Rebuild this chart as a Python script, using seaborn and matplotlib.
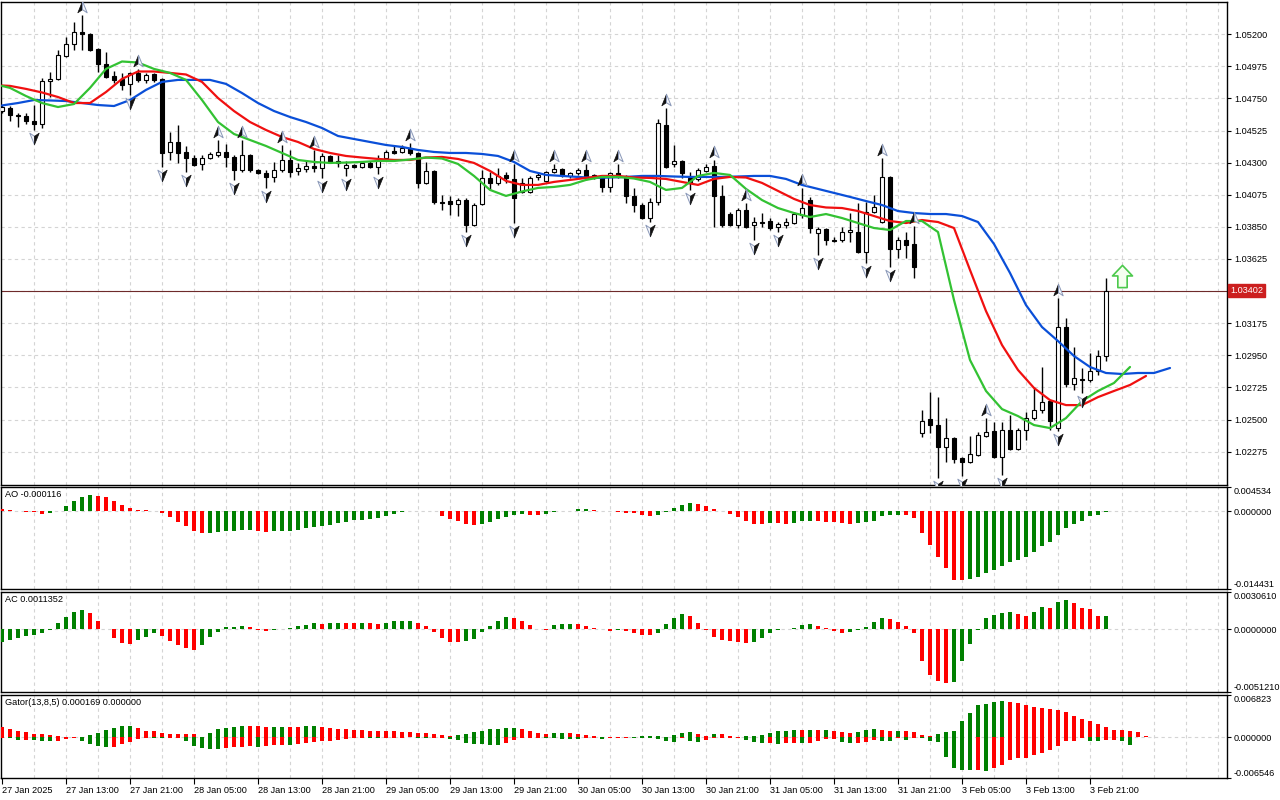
import numpy as np
import matplotlib
matplotlib.use("Agg")
import matplotlib.pyplot as plt
from matplotlib.path import Path
from matplotlib import transforms
import seaborn as sns

sns.set_style("white")
plt.rcParams['font.family'] = ['Liberation Sans', 'DejaVu Sans']

# ---------------- data (H1 bars) ----------------
opens = [1.04662, 1.04683, 1.04634, 1.04627, 1.04592, 1.04571, 1.04873, 1.04887, 1.05048, 1.05132,
         1.05216, 1.05202, 1.05097, 1.04992, 1.04908, 1.04887, 1.04852, 1.04929, 1.04880, 1.04922,
         1.04887, 1.04375, 1.04445, 1.04375, 1.04333, 1.04291, 1.04333, 1.04354, 1.04375, 1.04340,
         1.04249, 1.04354, 1.04249, 1.04228, 1.04200, 1.04249, 1.04319, 1.04242, 1.04256, 1.04277,
         1.04263, 1.04347, 1.04312, 1.04263, 1.04284, 1.04270, 1.04298, 1.04270, 1.04333, 1.04382,
         1.04375, 1.04403, 1.04368, 1.04158, 1.04242, 1.04024, 1.04031, 1.04010, 1.04038, 1.03863,
         1.04010, 1.04193, 1.04158, 1.04214, 1.04186, 1.04095, 1.04095, 1.04200, 1.04172, 1.04235,
         1.04256, 1.04207, 1.04228, 1.04249, 1.04193, 1.04200, 1.04130, 1.04228, 1.04200, 1.04067,
         1.04003, 1.03912, 1.04024, 1.04564, 1.04291, 1.04312, 1.04193, 1.04186, 1.04242, 1.04277,
         1.04067, 1.03940, 1.03863, 1.03968, 1.03863, 1.03884, 1.03891, 1.03849, 1.03863, 1.03877,
         1.03933, 1.04038, 1.03807, 1.03835, 1.03758, 1.03758, 1.03814, 1.03814, 1.03674, 1.03954,
         1.03884, 1.04200, 1.03695, 1.03758, 1.03730, 1.02405, 1.02503, 1.02461, 1.02307, 1.02370,
         1.02230, 1.02202, 1.02251, 1.02384, 1.02419, 1.02237, 1.02426, 1.02293, 1.02426, 1.02510,
         1.02566, 1.02629, 1.02440, 1.03148, 1.02749, 1.02784, 1.02777, 1.02840, 1.02945]
highs = [1.04704, 1.04697, 1.04648, 1.04648, 1.04704, 1.04894, 1.04936, 1.05090, 1.05181, 1.05286,
         1.05335, 1.05209, 1.05104, 1.05076, 1.04943, 1.04929, 1.04936, 1.04957, 1.04929, 1.04929,
         1.04894, 1.04515, 1.04564, 1.04417, 1.04354, 1.04354, 1.04375, 1.04459, 1.04431, 1.04354,
         1.04459, 1.04361, 1.04256, 1.04249, 1.04305, 1.04424, 1.04389, 1.04298, 1.04319, 1.04389,
         1.04368, 1.04354, 1.04354, 1.04312, 1.04291, 1.04305, 1.04312, 1.04354, 1.04389, 1.04424,
         1.04424, 1.04438, 1.04375, 1.04305, 1.04249, 1.04074, 1.04067, 1.04053, 1.04053, 1.04017,
         1.04249, 1.04235, 1.04263, 1.04235, 1.04291, 1.04193, 1.04207, 1.04235, 1.04242, 1.04291,
         1.04263, 1.04235, 1.04263, 1.04291, 1.04221, 1.04214, 1.04235, 1.04291, 1.04214, 1.04123,
         1.04017, 1.04053, 1.04606, 1.04683, 1.04424, 1.04319, 1.04235, 1.04263, 1.04291, 1.04319,
         1.04144, 1.03954, 1.03982, 1.04017, 1.03919, 1.03947, 1.03912, 1.03884, 1.03912, 1.03954,
         1.04123, 1.04060, 1.03849, 1.03842, 1.03779, 1.03849, 1.03947, 1.04017, 1.04024, 1.04074,
         1.04333, 1.04207, 1.03779, 1.03814, 1.03856, 1.02566, 1.02693, 1.02658, 1.02510, 1.02377,
         1.02237, 1.02384, 1.02412, 1.02510, 1.02482, 1.02482, 1.02531, 1.02440, 1.02552, 1.02728,
         1.02868, 1.02636, 1.03351, 1.03211, 1.03008, 1.02861, 1.02966, 1.02987, 1.03492]
lows = [1.04648, 1.04592, 1.04550, 1.04571, 1.04529, 1.04543, 1.04760, 1.04880, 1.05041, 1.05090,
        1.05090, 1.05083, 1.04936, 1.04894, 1.04859, 1.04810, 1.04774, 1.04866, 1.04859, 1.04866,
        1.04270, 1.04319, 1.04298, 1.04235, 1.04277, 1.04249, 1.04326, 1.04340, 1.04270, 1.04179,
        1.04235, 1.04235, 1.04221, 1.04123, 1.04165, 1.04235, 1.04200, 1.04214, 1.04235, 1.04235,
        1.04193, 1.04298, 1.04270, 1.04207, 1.04263, 1.04263, 1.04263, 1.04221, 1.04326, 1.04361,
        1.04368, 1.04354, 1.04123, 1.04151, 1.04010, 1.03968, 1.03933, 1.03926, 1.03814, 1.03856,
        1.04003, 1.04109, 1.04144, 1.04158, 1.03877, 1.04088, 1.04088, 1.04179, 1.04165, 1.04228,
        1.04200, 1.04193, 1.04214, 1.04179, 1.04186, 1.04095, 1.04095, 1.04193, 1.04017, 1.03954,
        1.03905, 1.03884, 1.04003, 1.04263, 1.04270, 1.04193, 1.04109, 1.04172, 1.04235, 1.03849,
        1.03849, 1.03856, 1.03842, 1.03842, 1.03758, 1.03849, 1.03828, 1.03814, 1.03842, 1.03870,
        1.03912, 1.03807, 1.03653, 1.03723, 1.03744, 1.03744, 1.03744, 1.03667, 1.03597, 1.03947,
        1.03877, 1.03569, 1.03632, 1.03632, 1.03492, 1.02377, 1.02405, 1.02090, 1.02202, 1.02195,
        1.02104, 1.02195, 1.02244, 1.02377, 1.02230, 1.02111, 1.02286, 1.02286, 1.02356, 1.02496,
        1.02545, 1.02426, 1.02419, 1.02728, 1.02707, 1.02686, 1.02763, 1.02812, 1.02910]
closes = [1.04690, 1.04634, 1.04627, 1.04592, 1.04571, 1.04873, 1.04887, 1.05055, 1.05132, 1.05216,
          1.05202, 1.05090, 1.04992, 1.04901, 1.04880, 1.04845, 1.04929, 1.04880, 1.04915, 1.04880,
          1.04368, 1.04445, 1.04368, 1.04333, 1.04284, 1.04333, 1.04361, 1.04375, 1.04340, 1.04249,
          1.04354, 1.04249, 1.04228, 1.04200, 1.04249, 1.04319, 1.04235, 1.04263, 1.04277, 1.04263,
          1.04347, 1.04305, 1.04298, 1.04284, 1.04270, 1.04298, 1.04270, 1.04319, 1.04375, 1.04368,
          1.04403, 1.04368, 1.04158, 1.04242, 1.04024, 1.04017, 1.04010, 1.04038, 1.03863, 1.04003,
          1.04193, 1.04158, 1.04207, 1.04193, 1.04053, 1.04158, 1.04193, 1.04214, 1.04235, 1.04256,
          1.04214, 1.04228, 1.04249, 1.04193, 1.04214, 1.04130, 1.04228, 1.04200, 1.04067, 1.04003,
          1.03912, 1.04024, 1.04578, 1.04270, 1.04312, 1.04228, 1.04158, 1.04249, 1.04270, 1.04067,
          1.03863, 1.03863, 1.03968, 1.03849, 1.03884, 1.03877, 1.03842, 1.03870, 1.03884, 1.03940,
          1.03982, 1.03842, 1.03835, 1.03758, 1.03751, 1.03814, 1.03828, 1.03674, 1.03954, 1.03989,
          1.04200, 1.03695, 1.03758, 1.03723, 1.03569, 1.02489, 1.02461, 1.02307, 1.02370, 1.02223,
          1.02202, 1.02258, 1.02391, 1.02412, 1.02237, 1.02426, 1.02293, 1.02426, 1.02510, 1.02566,
          1.02622, 1.02489, 1.03148, 1.02749, 1.02791, 1.02777, 1.02840, 1.02945, 1.03402]

# Alligator lines (jaw read on even bars 0..146, teeth/lips on bar 0 and odd bars)
jaw = [1.04701, 1.04718, 1.04739, 1.04736, 1.04732, 1.04718, 1.04704, 1.04697, 1.04739, 1.04810,
       1.04866, 1.04880, 1.04880, 1.04880, 1.04852, 1.04788, 1.04718, 1.04662, 1.04620, 1.04585,
       1.04543, 1.04487, 1.04466, 1.04445, 1.04424, 1.04410, 1.04389, 1.04375, 1.04368, 1.04368,
       1.04361, 1.04347, 1.04305, 1.04242, 1.04214, 1.04207, 1.04200, 1.04193, 1.04196, 1.04200,
       1.04207, 1.04207, 1.04203, 1.04200, 1.04200, 1.04200, 1.04203, 1.04207, 1.04207, 1.04186,
       1.04144, 1.04116, 1.04088, 1.04060, 1.04031, 1.04003, 1.03961, 1.03947, 1.03940, 1.03940,
       1.03926, 1.03884, 1.03730, 1.03527, 1.03302, 1.03148, 1.03050, 1.02945, 1.02868, 1.02826,
       1.02819, 1.02826, 1.02826, 1.02861]
teeth = [1.04841,
         1.04838, 1.04817, 1.04792, 1.04760, 1.04718, 1.04718, 1.04795, 1.04887, 1.04939, 1.04939,
         1.04929, 1.04918, 1.04866, 1.04753, 1.04662, 1.04585, 1.04529, 1.04480, 1.04445, 1.04396,
         1.04368, 1.04347, 1.04336, 1.04326, 1.04319, 1.04319, 1.04336, 1.04340, 1.04326, 1.04298,
         1.04242, 1.04172, 1.04144, 1.04144, 1.04165, 1.04179, 1.04193, 1.04207, 1.04207, 1.04196,
         1.04193, 1.04186, 1.04165, 1.04144, 1.04186, 1.04200, 1.04196, 1.04158, 1.04102, 1.04046,
         1.04003, 1.03986, 1.03982, 1.03961, 1.03926, 1.03891, 1.03877, 1.03898, 1.03884, 1.03842,
         1.03548, 1.03260, 1.03022, 1.02847, 1.02721, 1.02636, 1.02601, 1.02601, 1.02657, 1.02700,
         1.02742, 1.02805]
lips = [1.04838,
        1.04824, 1.04767, 1.04718, 1.04690, 1.04711, 1.04824, 1.04957, 1.05009, 1.05002, 1.04957,
        1.04929, 1.04880, 1.04739, 1.04585, 1.04501, 1.04459, 1.04417, 1.04368, 1.04319, 1.04305,
        1.04298, 1.04301, 1.04305, 1.04312, 1.04312, 1.04322, 1.04336, 1.04329, 1.04291, 1.04207,
        1.04109, 1.04067, 1.04098, 1.04123, 1.04130, 1.04144, 1.04179, 1.04200, 1.04200, 1.04189,
        1.04165, 1.04109, 1.04123, 1.04207, 1.04228, 1.04214, 1.04116, 1.04038, 1.03982, 1.03947,
        1.03919, 1.03940, 1.03912, 1.03877, 1.03842, 1.03828, 1.03891, 1.03891, 1.03814, 1.03337,
        1.02917, 1.02700, 1.02573, 1.02524, 1.02461, 1.02440, 1.02510, 1.02629, 1.02700, 1.02756,
        1.02868]
jaw_bars = list(range(0, 147, 2))
teeth_bars = [0] + list(range(1, 144, 2))
lips_bars = [0] + list(range(1, 142, 2))

fractal_up = [10, 17, 27, 30, 35, 39, 51, 64, 69, 73, 77, 83, 89, 93, 100, 110, 114, 123, 132]
fractal_down = [4, 16, 20, 23, 29, 33, 40, 43, 47, 58, 64, 81, 86, 94, 97, 102, 108, 111, 117,
                120, 125, 132, 135]
signal_bar = 140
signal_price = 1.03506

ao = [0.0004, 0.0003, 0.0001, -0.0001, -0.0002, -0.0004, -0.0003, 0.0001, 0.00093, 0.00186,
      0.0026, 0.0030, 0.0029, 0.0026, 0.00186, 0.0011, 0.00056, 0.0003, 0.0002, 0.0001,
      -0.0003, -0.00105, -0.00205, -0.0028, -0.0036, -0.0040, -0.00398, -0.00385, -0.0037, -0.0036,
      -0.00354, -0.0034, -0.0037, -0.00385, -0.0037, -0.00366, -0.0036, -0.0034, -0.00316, -0.0029,
      -0.0028, -0.00254, -0.00217, -0.0020, -0.00167, -0.00155, -0.0014, -0.0013, -0.00093, -0.0004,
      -0.0001, 0.0001, 0.00015, 0.0001, 0.0, -0.00093, -0.00143, -0.00186, -0.00236, -0.0026,
      -0.00236, -0.00205, -0.00143, -0.00105, -0.00068, -0.0005, -0.0006, -0.00065, -0.0005, -0.0001,
      0.0, 0.0001, 0.0004, 0.00045, 0.0002, 0.00015, 0.0, -0.0001, -0.0003, -0.00035,
      -0.0007, -0.0009, -0.0007, -0.0001, 0.00056, 0.0011, 0.00155, 0.0014, 0.00093, 0.0004,
      0.0001, -0.0005, -0.0011, -0.00186, -0.00236, -0.0024, -0.00217, -0.0022, -0.00236, -0.00217,
      -0.00186, -0.0017, -0.00186, -0.0019, -0.00205, -0.00217, -0.00236, -0.00217, -0.0020, -0.0017,
      -0.00093, -0.0007, -0.00065, -0.0007, -0.0012, -0.00403, -0.00632, -0.00856, -0.01054, -0.01283,
      -0.01284, -0.01259, -0.01221, -0.01147, -0.01097, -0.01023, -0.00949, -0.00911, -0.00856, -0.00763,
      -0.00651, -0.00577, -0.00446, -0.00316, -0.00236, -0.00186, -0.00093, -0.00068, -0.000116]
ac = [-0.00101, -0.00087, -0.00068, -0.00055, -0.00046, -0.00027, -0.00005, 0.00055, 0.00101, 0.00142,
      0.00158, 0.00134, 0.00068, 0.0, -0.00068, -0.00109, -0.00117, -0.00085, -0.0006, -0.00027,
      -0.00052, -0.00096, -0.00126, -0.0015, -0.00169, -0.00126, -0.0006, -0.00019, 0.00019, 0.0002,
      0.00027, 0.00019, -0.00005, -0.0001, -0.00003, 0.00002, 0.00008, 0.00027, 0.00033, 0.00055,
      0.00046, 0.0005, 0.00055, 0.00052, 0.0005, 0.00055, 0.00052, 0.00048, 0.00055, 0.00068,
      0.00069, 0.0007, 0.00052, 0.00027, -0.00019, -0.00068, -0.00101, -0.00102, -0.00093, -0.00076,
      -0.00019, 0.00027, 0.00068, 0.00101, 0.00093, 0.00068, 0.00035, 0.00005, -0.00005, 0.00035,
      0.00044, 0.00046, 0.00044, 0.00027, 0.00008, 0.00005, -0.0001, -0.00003, -0.0001, -0.00027,
      -0.00044, -0.00045, -0.00027, 0.00044, 0.00093, 0.00126, 0.00109, 0.00052, -0.00003, -0.0006,
      -0.00085, -0.00093, -0.00101, -0.00109, -0.00101, -0.00068, -0.00027, -0.00003, 0.00002, 0.00014,
      0.00033, 0.00044, 0.00027, 0.00008, -0.0001, -0.00027, -0.00019, -0.00003, 0.00019, 0.0006,
      0.00093, 0.00085, 0.0006, 0.00027, -0.00027, -0.00257, -0.00371, -0.0042, -0.00437, -0.00429,
      -0.00257, -0.00117, -0.00003, 0.00093, 0.00117, 0.00134, 0.00142, 0.00126, 0.00109, 0.00142,
      0.00183, 0.00175, 0.00224, 0.0024, 0.00216, 0.00175, 0.00167, 0.00112, 0.0011352]
gator_up = [0.00161, 0.0014, 0.00102, 0.00086, 0.00054, 0.00052, 0.00038, 0.00021, 0.0001, 0.00003,
            0.0001, 0.00038, 0.0007, 0.00118, 0.00156, 0.00183, 0.00184, 0.0015, 0.00107, 0.00102,
            0.00075, 0.00054, 0.00053, 0.00052, 0.0005, 0.0001, 0.00064, 0.00129, 0.00156, 0.00172,
            0.00183, 0.00182, 0.00177, 0.00172, 0.00173, 0.00174, 0.00172, 0.0017, 0.00183, 0.00184,
            0.00172, 0.00156, 0.0014, 0.00129, 0.00118, 0.00117, 0.00107, 0.00102, 0.00101, 0.001,
            0.00086, 0.00085, 0.0007, 0.00069, 0.00054, 0.00032, 0.0002, 0.00032, 0.00054, 0.00086,
            0.00102, 0.00134, 0.00135, 0.0015, 0.00151, 0.00134, 0.00102, 0.0007, 0.00054, 0.0007,
            0.00071, 0.0007, 0.00054, 0.00032, 0.0002, 0.00008, 0.00005, 0.00003, 0.00002, 0.00004,
            0.0002, 0.00021, 0.00022, 0.00005, 0.00038, 0.0007, 0.00086, 0.00054, 0.0002, 0.00054,
            0.00053, 0.0002, 0.0001, 0.0002, 0.00025, 0.00038, 0.0007, 0.00102, 0.00103, 0.00118,
            0.00117, 0.00118, 0.00117, 0.00119, 0.00102, 0.00086, 0.0007, 0.00086, 0.00118, 0.00134,
            0.00118, 0.00102, 0.00103, 0.00102, 0.00086, 0.00038, 0.0002, 0.00054, 0.00086, 0.00102,
            0.00263, 0.00392, 0.0052, 0.00536, 0.00569, 0.00585, 0.00569, 0.00553, 0.00521, 0.00488,
            0.00472, 0.00456, 0.0044, 0.00408, 0.00343, 0.00295, 0.00263, 0.00215, 0.00166, 0.00118,
            0.00117, 0.00102, 0.00086, 0.000169]
gator_down = [0.0001, 0.00015, 0.00038, 0.00037, 0.00038, 0.00054, 0.00055, 0.00054, 0.0002, 0.00005,
              0.00054, 0.00107, 0.0014, 0.0015, 0.00148, 0.00107, 0.0007, 0.00027, 0.0001, 0.00016,
              0.00017, 0.0001, 0.00005, 0.00054, 0.00134, 0.00172, 0.00188, 0.00189, 0.00177, 0.00161,
              0.0015, 0.00145, 0.0015, 0.00134, 0.00118, 0.00117, 0.00118, 0.00107, 0.00091, 0.0008,
              0.00054, 0.00053, 0.00038, 0.00027, 0.00016, 0.0001, 0.00016, 0.00017, 0.0001, 0.00005,
              0.00003, 0.00002, 0.0001, 0.00012, 0.0001, 0.00005, 0.00027, 0.00043, 0.00091, 0.00107,
              0.00108, 0.00123, 0.00124, 0.00091, 0.00038, 0.0001, 0.00005, 0.00003, 0.00016, 0.00018,
              0.0002, 0.00022, 0.00027, 0.00016, 0.00015, 0.00027, 0.0001, 0.00005, 0.00003, 0.00005,
              0.0001, 0.00016, 0.00027, 0.00054, 0.0007, 0.0001, 0.00054, 0.0007, 0.00038, 0.00016,
              0.00015, 0.0001, 0.00005, 0.00038, 0.0007, 0.00091, 0.0009, 0.00107, 0.0009, 0.00089,
              0.00092, 0.0009, 0.0006, 0.00027, 0.00026, 0.0007, 0.00091, 0.0009, 0.0007, 0.00038,
              0.00054, 0.00055, 0.00016, 0.00038, 0.00016, 0.00017, 0.00054, 0.0007, 0.00311, 0.00489,
              0.00525, 0.00527, 0.00526, 0.00542, 0.00494, 0.0044, 0.00365, 0.00333, 0.0033, 0.00285,
              0.00252, 0.00204, 0.00134, 0.00054, 0.00053, 0.0001, 0.00054, 0.00055, 0.00038, 0.00037,
              0.00054, 0.00124]

price_ticks = [1.02275, 1.02500, 1.02725, 1.02950, 1.03175, 1.03400, 1.03625, 1.03850,
               1.04075, 1.04300, 1.04525, 1.04750, 1.04975, 1.05200]
price_range = (1.02041, 1.05426)
ao_range = (-0.014431, 0.004534)
ac_range = (-0.0051210, 0.0030610)
gator_range = (-0.006546, 0.006823)

time_labels = ["27 Jan 2025", "27 Jan 13:00", "27 Jan 21:00", "28 Jan 05:00", "28 Jan 13:00",
               "28 Jan 21:00", "29 Jan 05:00", "29 Jan 13:00", "29 Jan 21:00", "30 Jan 05:00",
               "30 Jan 13:00", "30 Jan 21:00", "31 Jan 05:00", "31 Jan 13:00", "31 Jan 21:00",
               "3 Feb 05:00", "3 Feb 13:00", "3 Feb 21:00"]
label_bars = [0, 8, 16, 24, 32, 40, 48, 56, 64, 72, 80, 88, 96, 104, 112, 120, 128, 136]

# ---------------- styling ----------------
GREEN = '#008000'
RED = '#ff0000'
FS = 6.6
GRID = dict(color='#d4d4d4', lw=0.8, ls=(0, (3, 3)), zorder=0)
XLIM = (-0.125, 153.125)

W, H = 1280, 800
fig = plt.figure(figsize=(12.8, 8.0), dpi=100)
fig.patch.set_facecolor('white')


def px_axes(x0, y0, x1, y1):
    return fig.add_axes([x0 / W, 1 - y1 / H, (x1 - x0) / W, (y1 - y0) / H])


ax = px_axes(1, 2, 1227, 485)
ax_ao = px_axes(1, 487, 1227, 589)
ax_ac = px_axes(1, 592, 1227, 692)
ax_gt = px_axes(1, 695, 1227, 778)
all_axes = [ax, ax_ao, ax_ac, ax_gt]

for a in all_axes:
    a.set_facecolor('white')
    a.set_xlim(*XLIM)
    for g in range(4, 154, 4):
        a.axvline(g, **GRID)
    for s in a.spines.values():
        s.set_color('black')
        s.set_linewidth(1.0)
    a.yaxis.tick_right()
    a.tick_params(axis='y', direction='out', length=3, width=0.8, pad=2,
                  labelsize=FS, colors='black', left=False, right=True)
    if a is not ax_gt:
        a.set_xticks([])

# ---------------- main price panel ----------------
o = np.array(opens); h = np.array(highs); l = np.array(lows); c = np.array(closes)
x = np.arange(len(o))
for t in price_ticks:
    ax.axhline(t, **GRID)
ax.vlines(x, l, h, color='black', linewidth=1.0, zorder=3)
body_lo = np.minimum(o, c)
body_h = np.maximum(np.abs(c - o), 0.00001)
ax.bar(x, body_h, bottom=body_lo, width=0.5,
       color=['white' if cc >= oo else 'black' for oo, cc in zip(o, c)],
       edgecolor='black', linewidth=0.8, zorder=4)

sns.lineplot(x=jaw_bars, y=jaw, ax=ax, color='#0a4fd8', linewidth=1.6, zorder=5,
             estimator=None, sort=False)
sns.lineplot(x=teeth_bars, y=teeth, ax=ax, color='#f01010', linewidth=1.6, zorder=5,
             estimator=None, sort=False)
sns.lineplot(x=lips_bars, y=lips, ax=ax, color='#33c233', linewidth=1.6, zorder=5,
             estimator=None, sort=False)

# two-tone fractal arrowheads
CL = [Path.MOVETO, Path.LINETO, Path.LINETO, Path.CLOSEPOLY]
UP_L = Path([(0, 1), (0, -0.35), (-0.75, -0.85), (0, 1)], CL)
UP_R = Path([(0, 1), (0.75, -0.85), (0, -0.35), (0, 1)], CL)
DN_L = Path([(0, -1), (0, 0.35), (-0.75, 0.85), (0, -1)], CL)
DN_R = Path([(0, -1), (0.75, 0.85), (0, 0.35), (0, -1)], CL)
off_up = transforms.offset_copy(ax.transData, fig=fig, y=6, units='points')
off_dn = transforms.offset_copy(ax.transData, fig=fig, y=-6, units='points')
fu = np.array(fractal_up); fd = np.array(fractal_down)
DARK = dict(ls='none', ms=9, mfc='#111111', mec='#111111', mew=0.5, zorder=6)
LIGHT = dict(ls='none', ms=9, mfc='#f4f6fa', mec='#8a98b8', mew=0.7, zorder=6)
ax.plot(fu, h[fu], marker=UP_L, transform=off_up, **DARK)
ax.plot(fu, h[fu], marker=UP_R, transform=off_up, **LIGHT)
ax.plot(fd, l[fd], marker=DN_L, transform=off_dn, **LIGHT)
ax.plot(fd, l[fd], marker=DN_R, transform=off_dn, **DARK)

BLOCK = Path([(0, 1), (0.9, 0.05), (0.42, 0.05), (0.42, -1), (-0.42, -1), (-0.42, 0.05),
              (-0.9, 0.05), (0, 1)],
             [Path.MOVETO] + [Path.LINETO] * 6 + [Path.CLOSEPOLY])
ax.plot([signal_bar], [signal_price], ls='none', marker=BLOCK, ms=16, mfc='#f6fff0',
        mec='#4cc94c', mew=1.2, zorder=6)

last = closes[-1]
ax.axhline(last, color='#6e2a2a', lw=0.8, zorder=2.5)
ax.text(1.0025, last, f"{last:.5f}",
        transform=transforms.blended_transform_factory(ax.transAxes, ax.transData),
        ha='left', va='center', fontsize=FS, color='white', clip_on=False, zorder=10,
        bbox=dict(boxstyle='square,pad=0.22', fc='#cc1f1f', ec='#cc1f1f'))

ax.set_ylim(*price_range)
ax.set_yticks(price_ticks)
ax.set_yticklabels(['' if abs(t - last) < 0.0002 else f"{t:.5f}" for t in price_ticks])


# ---------------- indicator panels ----------------
def rising(vals, first):
    v = np.asarray(vals, dtype=float)
    return np.concatenate([[first], np.diff(v) > 0])


def panel(a, vals_list, rng, fmt, title, height_px):
    for xs, vals, up in vals_list:
        a.bar(xs, vals, width=0.5, color=np.where(up, GREEN, RED), linewidth=0, zorder=3)
    a.axhline(0, **GRID)
    a.set_ylim(*rng)
    a.set_yticks([rng[0], 0, rng[1]])
    labs = a.set_yticklabels([fmt.format(rng[0]), fmt.format(0.0), fmt.format(rng[1])])
    labs[0].set_va('bottom')
    labs[2].set_va('top')
    a.text(4 / 1226, 1 - 3 / height_px, title, transform=a.transAxes, ha='left', va='top',
           fontsize=FS, color='black')


panel(ax_ao, [(np.arange(len(ao)), np.array(ao), rising(ao, False))], ao_range, "{:.6f}",
      f"AO {ao[-1]:.6f}", 102)
panel(ax_ac, [(np.arange(len(ac)), np.array(ac), rising(ac, True))], ac_range, "{:.7f}",
      f"AC {ac[-1]:.7f}", 100)
gu = np.array(gator_up); gd = np.array(gator_down)
panel(ax_gt, [(np.arange(len(gu)), gu, rising(gu, False)),
              (np.arange(len(gd)), -gd, rising(gd, False))],
      gator_range, "{:.6f}", f"Gator(13,8,5) {gator_up[-1]:.6f} {0:.6f}", 83)

ax_gt.set_xticks(label_bars)
ax_gt.set_xticklabels(time_labels, ha='left')
ax_gt.tick_params(axis='x', direction='out', length=4, width=0.8, pad=2, labelsize=FS,
                  colors='black', bottom=True)

fig.savefig('out.png', dpi=100, facecolor='white')
